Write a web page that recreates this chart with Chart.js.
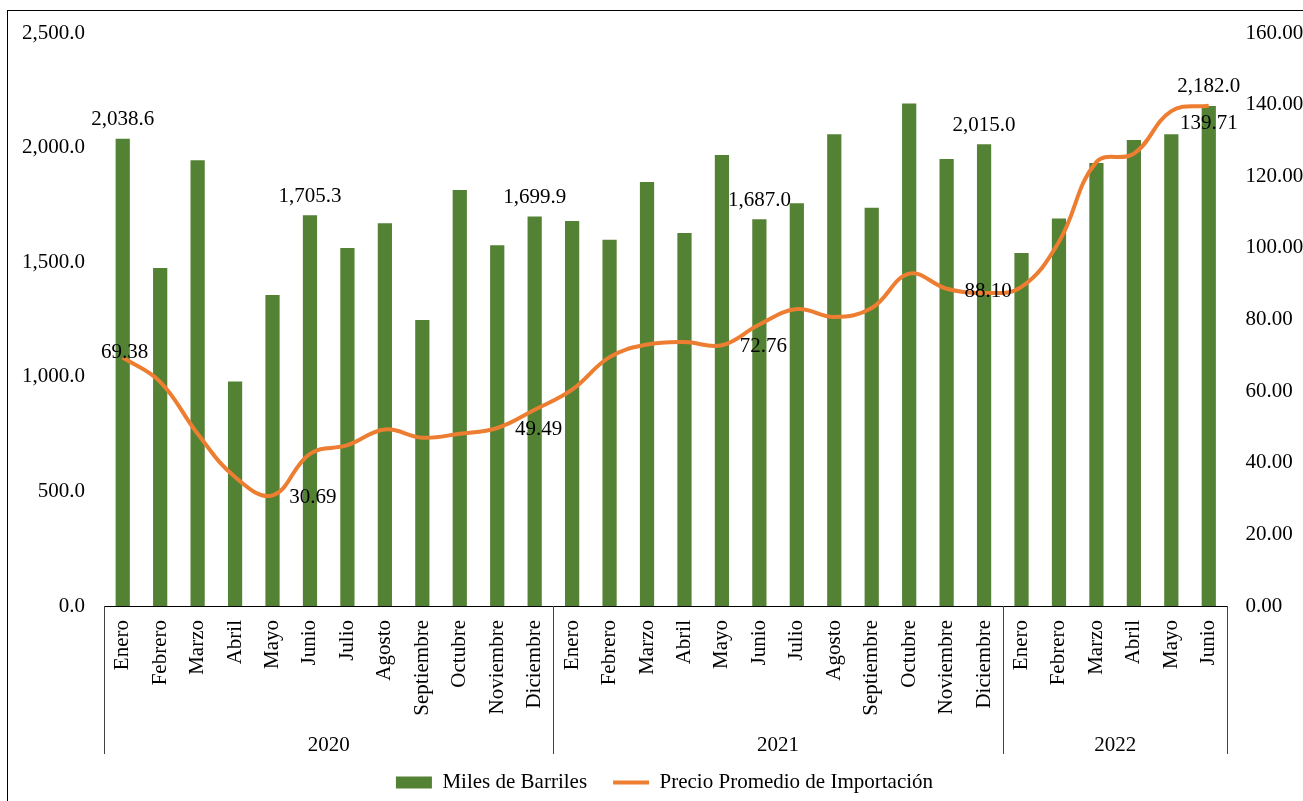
<!DOCTYPE html>
<html>
<head>
<meta charset="utf-8">
<script src="https://cdn.jsdelivr.net/npm/chart.js@4/dist/chart.umd.min.js"></script>
<style>
  html, body { margin: 0; padding: 0; background: #fff; overflow: hidden; }
  #marco { position: absolute; left: 7px; top: 10px; width: 1400px; height: 900px; border: 1.5px solid #000; }
  #wrap { position: absolute; left: 0; top: 0; width: 1303px; height: 801px; }
</style>
</head>
<body>
<div id="marco"></div>
<div id="wrap"><canvas id="grafico" width="1303" height="801"></canvas></div>
<script>
// datos del gráfico
const meses = ['Enero','Febrero','Marzo','Abril','Mayo','Junio','Julio','Agosto','Septiembre','Octubre','Noviembre','Diciembre',
               'Enero','Febrero','Marzo','Abril','Mayo','Junio','Julio','Agosto','Septiembre','Octubre','Noviembre','Diciembre',
               'Enero','Febrero','Marzo','Abril','Mayo','Junio'];
const anios = ['2020', '2021', '2022'];
const mesesPorAnio = [12, 12, 6];

const barriles = [2038.6, 1475, 1945, 980, 1357, 1705.3, 1562, 1670, 1248, 1815, 1574, 1699.9,
                  1680, 1598, 1850, 1627, 1968, 1687.0, 1757, 2058, 1738, 2192, 1950, 2015.0,
                  1540, 1691, 1933, 2033, 2058, 2182.0];
const precio = [69.38, 62.6, 48.1, 36, 30.9, 42.5, 44.9, 49.3, 47.0, 48.1, 49.7, 54.8,
                60.4, 69.5, 73, 73.7, 72.8, 78.6, 82.9, 80.7, 83.2, 92.8, 88.6, 87.4,
                89.1, 101.7, 124, 126.3, 138.2, 139.71];

// etiquetas que se muestran en el gráfico
const etiquetasBarras = [0, 5, 11, 17, 23, 29];
const etiquetasPrecio = [69.38, 30.69, 49.49, 72.76, 88.10, 139.71];
const ejeIzq = [0, 500, 1000, 1500, 2000, 2500];
const ejeDer = [0, 20, 40, 60, 80, 100, 120, 140, 160];

const fuente = '"Liberation Serif", "Times New Roman", serif';
const verde = '#548235';
const naranja = '#ED7D31';

const fmt1 = v => v.toLocaleString('en-US', { minimumFractionDigits: 1, maximumFractionDigits: 1 });

// desplazamiento de las etiquetas del precio (como en el original)
const ajustePrecio = [[2, -5], [3, 1], [4, 1], [4, 1], [4, 1], [0, 18]];

const etiquetas = {
    id: 'etiquetas',
    afterDatasetsDraw(chart) {
        const ctx = chart.ctx;
        const x = chart.scales.x;
        const y1 = chart.scales.y1;
        const barras = chart.getDatasetMeta(0).data;
        ctx.save();
        ctx.font = '21px ' + fuente;
        ctx.fillStyle = '#000';
        ctx.textAlign = 'center';
        ctx.textBaseline = 'middle';
        etiquetasBarras.forEach((i, k) => {
            const b = barras[i];
            ctx.fillText(fmt1(barriles[i]), b.x, b.y - 19);
            const px = x.getPixelForValue(i) + ajustePrecio[k][0];
            const py = y1.getPixelForValue(etiquetasPrecio[k]) + ajustePrecio[k][1];
            ctx.fillText(etiquetasPrecio[k].toFixed(2), px, py);
        });
        ctx.restore();
    },
    afterDraw(chart) {
        // años y separadores bajo el eje
        const ctx = chart.ctx;
        const x = chart.scales.x;
        const area = chart.chartArea;
        const abajo = area.bottom + 148;
        ctx.save();
        ctx.strokeStyle = '#404040';
        ctx.lineWidth = 1;
        ctx.font = '21px ' + fuente;
        ctx.fillStyle = '#000';
        ctx.textAlign = 'center';
        ctx.textBaseline = 'middle';
        let ini = 0;
        const paso = x.getPixelForValue(1) - x.getPixelForValue(0);
        mesesPorAnio.forEach((n, k) => {
            const izq = x.getPixelForValue(ini) - paso / 2;
            const der = x.getPixelForValue(ini + n - 1) + paso / 2;
            ctx.beginPath();
            ctx.moveTo(Math.round(izq) + 0.5, area.bottom);
            ctx.lineTo(Math.round(izq) + 0.5, abajo);
            ctx.moveTo(Math.round(der) + 0.5, area.bottom);
            ctx.lineTo(Math.round(der) + 0.5, abajo);
            ctx.stroke();
            ctx.fillText(anios[k], (izq + der) / 2, area.bottom + 139);
            ini += n;
        });
        ctx.restore();
    }
};

new Chart(document.getElementById('grafico'), {
    type: 'bar',
    data: {
        labels: meses,
        datasets: [
            {
                type: 'bar', label: 'Miles de Barriles', data: barriles, yAxisID: 'y',
                backgroundColor: verde, borderWidth: 0, barPercentage: 0.38, categoryPercentage: 1,
                pointStyle: 'rect', order: 2
            },
            {
                type: 'line', label: 'Precio Promedio de Importación', data: precio, yAxisID: 'y1',
                borderColor: naranja, backgroundColor: naranja, borderWidth: 4, tension: 0.4,
                pointRadius: 0, pointStyle: 'line', fill: false, order: 1
            }
        ]
    },
    options: {
        responsive: false,
        animation: false,
        layout: { padding: { left: 13, right: -13, top: 33, bottom: -2 } },
        plugins: {
            tooltip: { enabled: false },
            legend: {
                position: 'bottom',
                labels: {
                    usePointStyle: true, pointStyleWidth: 36, boxHeight: 12,
                    padding: 26, color: '#000', font: { family: fuente, size: 21 },
                    sort: (a, b) => a.datasetIndex - b.datasetIndex
                }
            }
        },
        scales: {
            x: {
                grid: { display: false, drawTicks: false },
                border: { display: true, color: '#000', width: 1 },
                ticks: {
                    autoSkip: false, minRotation: 90, maxRotation: 90, padding: 14,
                    color: '#000', font: { family: fuente, size: 21 }
                },
                afterFit(s) { s.height = 140; }
            },
            y: {
                position: 'left', min: 0, max: 2500,
                grid: { display: false, drawTicks: false },
                border: { display: false },
                afterBuildTicks(s) { s.ticks = ejeIzq.map(v => ({ value: v })); },
                ticks: { padding: 19, color: '#000', font: { family: fuente, size: 21 }, callback: v => fmt1(v) },
                afterFit(s) { s.width = 91; }
            },
            y1: {
                position: 'right', min: 0, max: 160,
                grid: { display: false, drawTicks: false },
                border: { display: false },
                afterBuildTicks(s) { s.ticks = ejeDer.map(v => ({ value: v })); },
                ticks: { padding: 18, color: '#000', font: { family: fuente, size: 21 }, callback: v => v.toFixed(2) },
                afterFit(s) { s.width = 88.5; }
            }
        }
    },
    plugins: [etiquetas]
});
</script>
</body>
</html>
